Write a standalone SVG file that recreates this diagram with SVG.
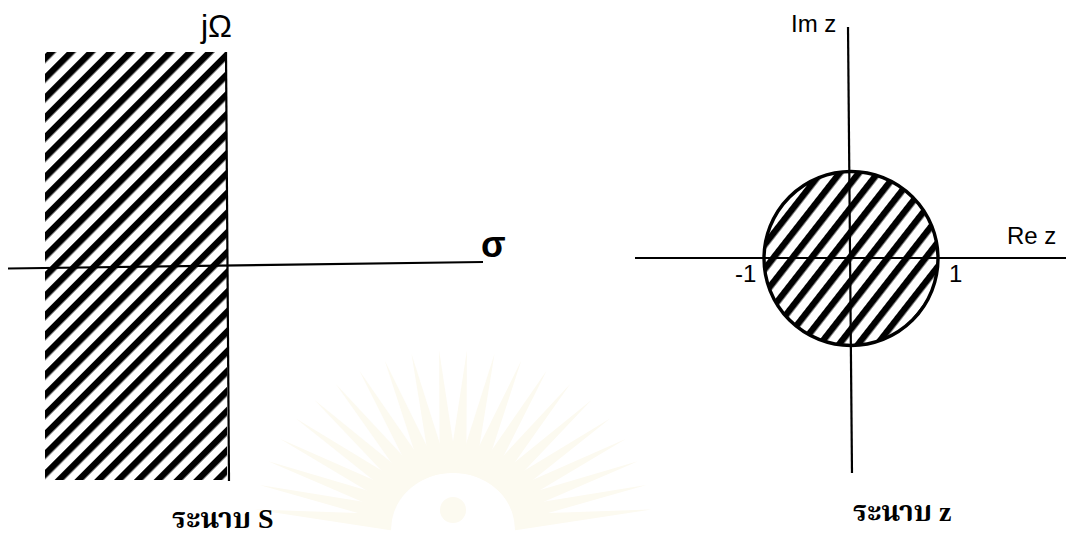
<svg xmlns="http://www.w3.org/2000/svg" width="1069" height="533" viewBox="0 0 1069 533">
  <style>
    .axis { stroke: #000; stroke-width: 2.2; fill: none; }
    .lbl { font-family: "Liberation Sans", Arial, sans-serif; fill: #000; }
    .thai { font-family: "Liberation Serif", "Noto Serif Thai", "Noto Sans Thai", serif; font-weight: bold; fill: #000; }
    .ray { fill: #fcf8ea; }
  </style>
  <defs>
    <pattern id="hatchS" patternUnits="userSpaceOnUse" width="14" height="14" patternTransform="rotate(45)">
      <rect x="0" y="0" width="6.5" height="14" fill="#000"/>
    </pattern>
    <pattern id="hatchZ" patternUnits="userSpaceOnUse" width="15" height="15" patternTransform="rotate(38)">
      <rect x="0" y="0" width="6.5" height="15" fill="#000"/>
    </pattern>
    <path id="petal" d="M-8,-55 L0,-178 L8,-55 Z"/>
  </defs>
  <rect width="1069" height="533" fill="#fff"/>

  <!-- faint watermark -->
  <g id="watermark" transform="translate(453,528)" opacity="0.7">
    <g class="ray">
      <use href="#petal" transform="scale(1.12,1) rotate(-84)"/>
      <use href="#petal" transform="scale(1.12,1) rotate(-76)"/>
      <use href="#petal" transform="scale(1.12,1) rotate(-68)"/>
      <use href="#petal" transform="scale(1.12,1) rotate(-60)"/>
      <use href="#petal" transform="scale(1.12,1) rotate(-52)"/>
      <use href="#petal" transform="scale(1.12,1) rotate(-44)"/>
      <use href="#petal" transform="scale(1.12,1) rotate(-36)"/>
      <use href="#petal" transform="scale(1.12,1) rotate(-28)"/>
      <use href="#petal" transform="scale(1.12,1) rotate(-20)"/>
      <use href="#petal" transform="scale(1.12,1) rotate(-12)"/>
      <use href="#petal" transform="scale(1.12,1) rotate(-4)"/>
      <use href="#petal" transform="scale(1.12,1) rotate(4)"/>
      <use href="#petal" transform="scale(1.12,1) rotate(12)"/>
      <use href="#petal" transform="scale(1.12,1) rotate(20)"/>
      <use href="#petal" transform="scale(1.12,1) rotate(28)"/>
      <use href="#petal" transform="scale(1.12,1) rotate(36)"/>
      <use href="#petal" transform="scale(1.12,1) rotate(44)"/>
      <use href="#petal" transform="scale(1.12,1) rotate(52)"/>
      <use href="#petal" transform="scale(1.12,1) rotate(60)"/>
      <use href="#petal" transform="scale(1.12,1) rotate(68)"/>
      <use href="#petal" transform="scale(1.12,1) rotate(76)"/>
      <use href="#petal" transform="scale(1.12,1) rotate(84)"/>
    </g>
    <circle cx="0" cy="-18" r="13" class="ray"/>
  </g>

  <!-- s-plane -->
  <g id="s-region">
    <rect x="45" y="52" width="182" height="428" fill="url(#hatchS)"/>
  </g>
  <g id="connectors">
    <line id="s-sigma-axis" class="axis" x1="8" y1="268.5" x2="483" y2="262"/>
    <line id="s-jomega-axis" class="axis" x1="226" y1="52" x2="229" y2="481"/>
    <line id="z-re-axis" class="axis" x1="635" y1="258" x2="1066" y2="258"/>
    <line id="z-im-axis" class="axis" x1="848" y1="27" x2="852" y2="473"/>
  </g>
  <g id="s-labels">
    <text class="lbl" x="201" y="37" font-size="32">jΩ</text>
    <text class="lbl" x="481" y="257" font-size="36" font-weight="bold">σ</text>
    <text class="thai" x="172" y="528" font-size="28">ระนาบ S</text>
  </g>

  <!-- z-plane -->
  <g id="z-region">
    <circle cx="851" cy="258.5" r="87" fill="url(#hatchZ)" stroke="#000" stroke-width="3.4"/>
  </g>
  <g id="z-labels">
    <text class="lbl" x="791" y="32" font-size="24">Im z</text>
    <text class="lbl" x="1007" y="244" font-size="24">Re z</text>
    <text class="lbl" x="735" y="282" font-size="24">-1</text>
    <text class="lbl" x="949" y="282" font-size="24">1</text>
    <text class="thai" x="853" y="521" font-size="28">ระนาบ z</text>
  </g>
</svg>
